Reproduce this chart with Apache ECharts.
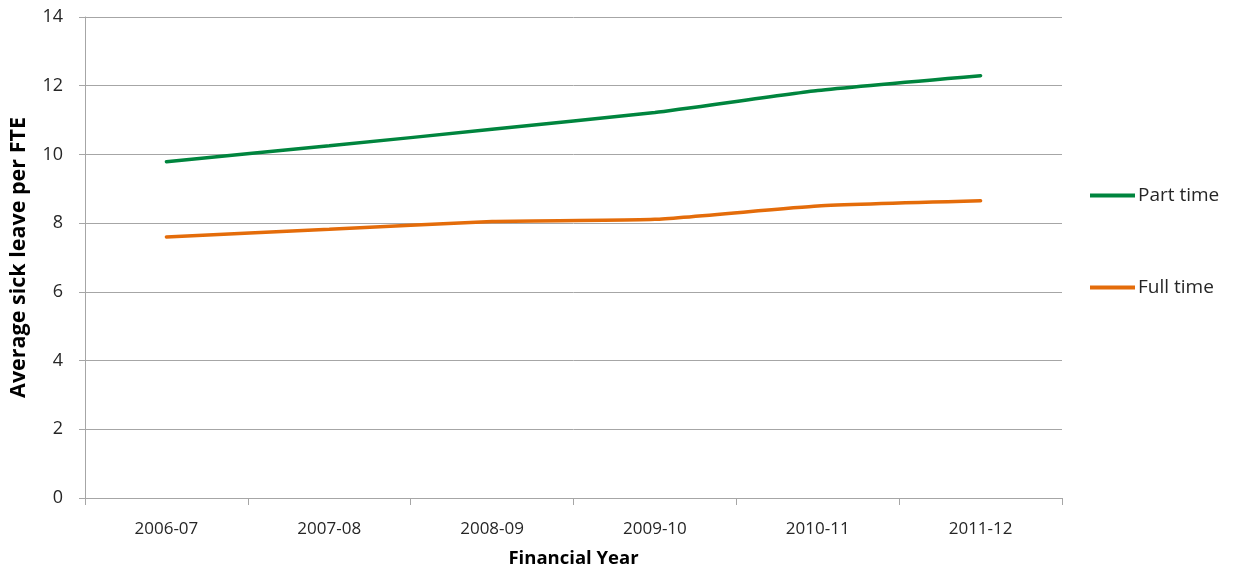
<!DOCTYPE html>
<html>
<head>
<meta charset="utf-8">
<script src="https://cdn.jsdelivr.net/npm/echarts@6/dist/echarts.min.js"></script>
<style>
  html, body { margin: 0; padding: 0; background: #ffffff; }
  #chart { width: 1234px; height: 570px; }
</style>
</head>
<body>
<div id="chart"></div>
<script>
// Financial years on the category axis
var years = ['2006-07', '2007-08', '2008-09', '2009-10', '2010-11', '2011-12'];
// Average sick leave days per FTE
var partTime = [9.79, 10.25, 10.73, 11.22, 11.86, 12.29];
var fullTime = [7.60, 7.82, 8.05, 8.11, 8.50, 8.65];
var seriesNames = ['Part time', 'Full time'];

var font = '"Open Sans", "Noto Sans", "Liberation Sans", sans-serif';
var chart = echarts.init(document.getElementById('chart'), null, { renderer: 'canvas' });

chart.setOption({
  animation: false,
  backgroundColor: '#ffffff',
  grid: { left: 85, right: 172, top: 17, bottom: 72, containLabel: false, outerBoundsMode: 'none' },
  legend: {
    orient: 'vertical',
    left: 1090,
    top: 186,
    padding: 0,
    itemGap: 73,
    itemWidth: 45,
    itemHeight: 4,
    icon: 'rect',
    textStyle: { fontFamily: font, fontSize: 19, color: '#262626', padding: [0, 0, 0, -2] },
    data: seriesNames
  },
  xAxis: {
    type: 'category',
    data: years,
    boundaryGap: true,
    name: 'Financial Year',
    nameLocation: 'middle',
    nameGap: 51,
    nameTextStyle: { fontFamily: font, fontSize: 18.5, fontWeight: 'bold', color: '#000000' },
    axisLine: { lineStyle: { color: '#a6a6a6', width: 1 } },
    axisTick: { show: true, alignWithLabel: false, length: 7, lineStyle: { color: '#a6a6a6' } },
    axisLabel: { fontFamily: font, fontSize: 17, color: '#262626', margin: 23 },
    splitLine: { show: false }
  },
  yAxis: {
    type: 'value',
    min: 0,
    max: 14,
    interval: 2,
    name: 'Average sick leave per FTE',
    nameLocation: 'middle',
    nameGap: 55,
    nameRotate: 90,
    nameTextStyle: { fontFamily: font, fontSize: 21.5, fontWeight: 'bold', color: '#000000' },
    axisLine: { show: true, lineStyle: { color: '#a6a6a6', width: 1 } },
    axisTick: { show: true, length: 6, lineStyle: { color: '#a6a6a6' } },
    axisLabel: { fontFamily: font, fontSize: 18, color: '#262626', margin: 22 },
    splitLine: { show: true, lineStyle: { color: '#a6a6a6', width: 1 } }
  },
  series: [
    {
      name: seriesNames[0],
      type: 'line',
      data: partTime,
      smooth: 0.15,
      symbol: 'none',
      itemStyle: { color: '#00853e' },
      lineStyle: { color: '#00853e', width: 3.5, cap: 'round' }
    },
    {
      name: seriesNames[1],
      type: 'line',
      data: fullTime,
      smooth: 0.15,
      symbol: 'none',
      itemStyle: { color: '#e46c0a' },
      lineStyle: { color: '#e46c0a', width: 3.5, cap: 'round' }
    }
  ]
});
</script>
</body>
</html>
